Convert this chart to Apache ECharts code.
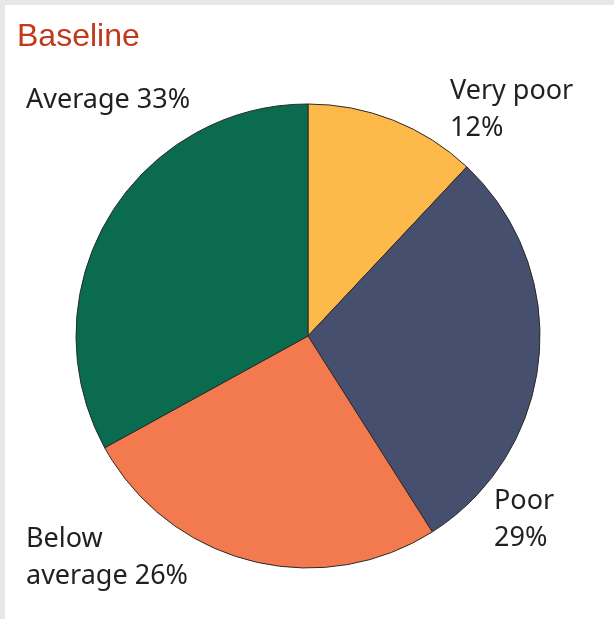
<!DOCTYPE html>
<html><head><meta charset="utf-8">
<script src="https://cdn.jsdelivr.net/npm/echarts@6/dist/echarts.min.js"></script>
<style>
html,body{margin:0;padding:0;background:#e6e7e9;}
#wrap{position:absolute;left:5px;top:5px;width:609px;height:614px;background:#fff;}
#c{width:609px;height:614px;}
</style></head>
<body><div id="wrap"><div id="c"></div></div>
<script>
const title = 'Baseline';
const categories = ['Very poor', 'Poor', 'Below average', 'Average'];
const labelTexts = ['Very poor\n12%', 'Poor\n29%', 'Below\naverage 26%', 'Average 33%'];
const values = [12, 29, 26, 33];
const colors = ['#FDB94A', '#474F6E', '#F37A4E', '#0B6B4F'];

const labelPos = [[445, 68], [489, 478], [21, 516], [21, 77]];

const chart = echarts.init(document.getElementById('c'));
chart.setOption({
  animation: false,
  title: {
    text: title, left: 7, top: 11,
    textStyle: {color: '#C0391B', fontFamily: 'Liberation Sans', fontSize: 32, fontWeight: 'normal'}
  },
  series: [{
    type: 'pie',
    center: [303, 331],
    radius: 232,
    startAngle: 90,
    clockwise: true,
    data: categories.map((c, i) => ({name: c, value: values[i], itemStyle: {color: colors[i]}})),
    itemStyle: {borderColor: '#2a2a2a', borderWidth: 1},
    label: {
      show: true,
      formatter: p => labelTexts[p.dataIndex],
      color: '#231f20',
      fontFamily: 'Noto Sans',
      fontSize: 27,
      lineHeight: 37,
      overflow: 'none',
      width: 300
    },
    labelLine: {show: false},
    labelLayout: p => ({x: labelPos[p.dataIndex][0], y: labelPos[p.dataIndex][1], align: 'left', verticalAlign: 'top'}),
    emphasis: {disabled: true}
  }]
});
</script></body></html>
